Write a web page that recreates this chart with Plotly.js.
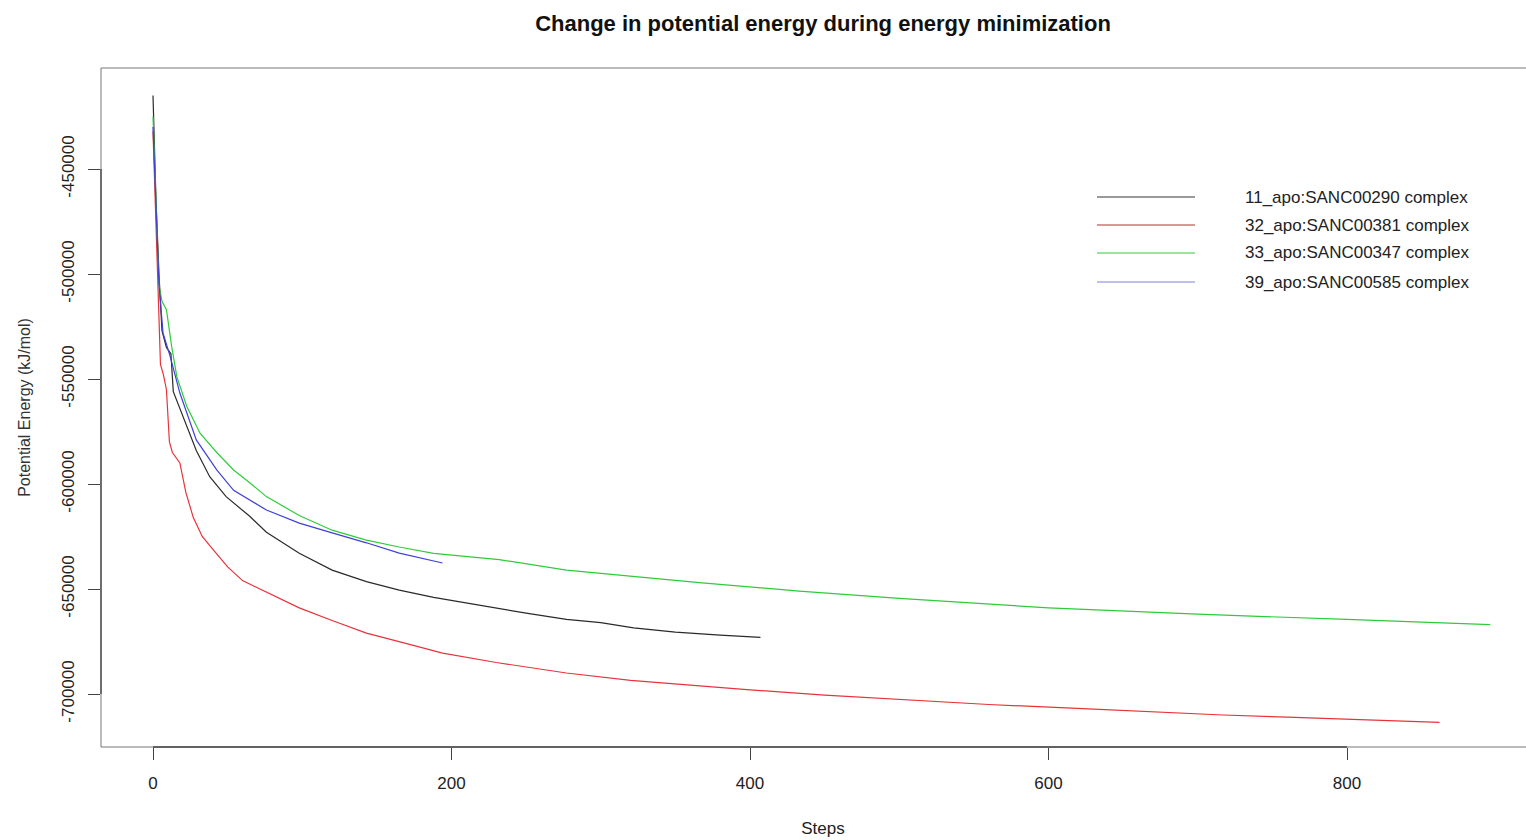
<!DOCTYPE html>
<html>
<head>
<meta charset="utf-8">
<script src="https://cdn.plot.ly/plotly-3.0.1.min.js"></script>
<style>
html,body{margin:0;padding:0;overflow:hidden;background:#fff;}
#chart{width:1545px;height:840px;}
</style>
</head>
<body>
<div id="chart"></div>
<script>
// ---- data ----
const seriesNames = ["11_apo:SANC00290 complex", "32_apo:SANC00381 complex", "33_apo:SANC00347 complex", "39_apo:SANC00585 complex"];
const seriesColors = ["#2a2a2a", "#e8333a", "#2ecc3a", "#4040d8"];
const legendColors = ["#999999", "#b03030", "#2ecc3a", "#8080e0"];

const steps11 = [0,1,2,4,6,9,12,13.6,20,29,38,49,65,76,98,120,143,165,188,220,250,277,300,322,350,380,407];
const energy11 = [-415000,-440000,-465000,-500000,-527000,-535000,-538000,-556000,-568000,-584000,-596500,-606000,-615500,-623000,-633000,-641000,-646500,-650500,-654000,-658000,-661500,-664500,-666000,-668500,-670500,-672000,-673000];

const steps32 = [0,1,2,3,4,5,7,9,11,13,18,22,27,33,40,50,60,72,87,98,120,143,170,194,230,277,320,366,400,450,512,560,623,680,717,760,800,862];
const energy32 = [-432000,-455000,-480000,-505000,-520000,-543000,-548000,-555000,-580000,-585000,-590000,-604000,-616000,-625000,-631000,-639500,-646000,-650000,-655000,-659000,-665000,-671000,-676000,-680500,-685000,-690000,-693500,-696200,-698000,-700500,-703000,-705000,-707000,-709000,-710000,-711000,-712000,-713500];

const steps33 = [0,1,2,4,6,9,12.5,16,22.6,31.5,42.7,54,65,76,98,120,143,165,188,232,277,320,366,433,500,600,700,800,896];
const energy33 = [-425000,-445000,-470000,-505000,-513000,-517000,-534500,-549000,-563000,-575800,-585000,-593300,-599500,-606000,-615000,-622000,-626700,-630000,-633000,-636000,-641000,-644000,-647000,-651000,-654500,-659000,-662000,-664500,-667000];

const steps39 = [0,1,2,4,6.7,11.4,18,22.6,29,42.7,54,76,98,120,143,165,194];
const energy39 = [-430000,-450000,-470000,-505000,-528000,-539000,-556700,-566000,-579000,-593300,-603000,-612400,-618600,-623300,-628000,-632900,-637600];

const xTicks = [0, 200, 400, 600, 800];
const yTicks = [-450000, -500000, -550000, -600000, -650000, -700000];

// ---- build traces ----
const allSteps = [steps11, steps32, steps33, steps39];
const allEnergy = [energy11, energy32, energy33, energy39];
const traces = allSteps.map((s, i) => ({
  type: "scatter", mode: "lines", x: s, y: allEnergy[i], name: seriesNames[i],
  line: {color: seriesColors[i], width: 1.2}, showlegend: false, hoverinfo: "x+y+name"
}));

// geometry (pixels)
const W = 1545, H = 840, L = 101, T = 68, B = 93, R = 0;
const plotW = W - L - R, plotH = H - T - B;
const px2x = p => (p - L) / plotW;
const py2y = p => 1 - (p - T) / plotH;

const font = "Liberation Sans, Arial, sans-serif";
const shapes = [
  {type: "rect", xref: "paper", yref: "paper", x0: 0, x1: 1.01, y0: 0, y1: 1, line: {color: "#777", width: 1}},
  {type: "line", xref: "x", yref: "paper", x0: xTicks[0], x1: xTicks[xTicks.length-1], y0: 0, y1: 0, line: {color: "#444", width: 1.3}},
  {type: "line", xref: "paper", yref: "y", x0: 0, x1: 0, y0: yTicks[0], y1: yTicks[yTicks.length-1], line: {color: "#444", width: 1.3}}
];
const annotations = [];
const legendRows = [197, 225, 253, 282];
seriesNames.forEach((n, i) => {
  shapes.push({type: "line", xref: "paper", yref: "paper", x0: px2x(1097), x1: px2x(1195),
    y0: py2y(legendRows[i]), y1: py2y(legendRows[i]), line: {color: legendColors[i], width: i === 0 ? 2 : 1.2}});
  annotations.push({xref: "paper", yref: "paper", x: px2x(1243), y: py2y(legendRows[i]), xanchor: "left", yanchor: "middle",
    text: n, showarrow: false, font: {family: font, size: 17, color: "#222"}});
});

const layout = {
  width: W, height: H,
  margin: {l: L, r: R, t: T, b: B},
  paper_bgcolor: "#fff", plot_bgcolor: "#fff",
  title: {text: "<b>Change in potential energy during energy minimization</b>", x: 0.5, xref: "paper", xanchor: "center",
    y: 1 - 23/840, yref: "container", yanchor: "middle", font: {family: font, size: 22, color: "#111"}},
  xaxis: {
    range: [(L - 153) / 1.4925, (W - 153) / 1.4925],
    tickvals: xTicks, ticktext: xTicks.map(String),
    ticks: "outside", ticklen: 12, tickcolor: "#444", tickwidth: 1, ticklabelstandoff: 9,
    showgrid: false, zeroline: false, showline: false,
    tickfont: {family: font, size: 17, color: "#222"},
    title: {text: "Steps", font: {family: font, size: 17, color: "#222"}, standoff: 29}
  },
  yaxis: {
    range: [-700000 - 53/105*50000, -450000 + 101/105*50000],
    tickvals: yTicks, ticktext: yTicks.map(String), tickangle: -90,
    ticks: "outside", ticklen: 12, tickcolor: "#444", tickwidth: 1, ticklabelstandoff: 7,
    showgrid: false, zeroline: false, showline: false,
    tickfont: {family: font, size: 17, color: "#222"},
    title: {text: "Potential Energy (kJ/mol)", font: {family: font, size: 16, color: "#333"}, standoff: 24}
  },
  shapes: shapes, annotations: annotations,
  showlegend: false
};

Plotly.newPlot("chart", traces, layout, {displayModeBar: false, staticPlot: true});
</script>
</body>
</html>
